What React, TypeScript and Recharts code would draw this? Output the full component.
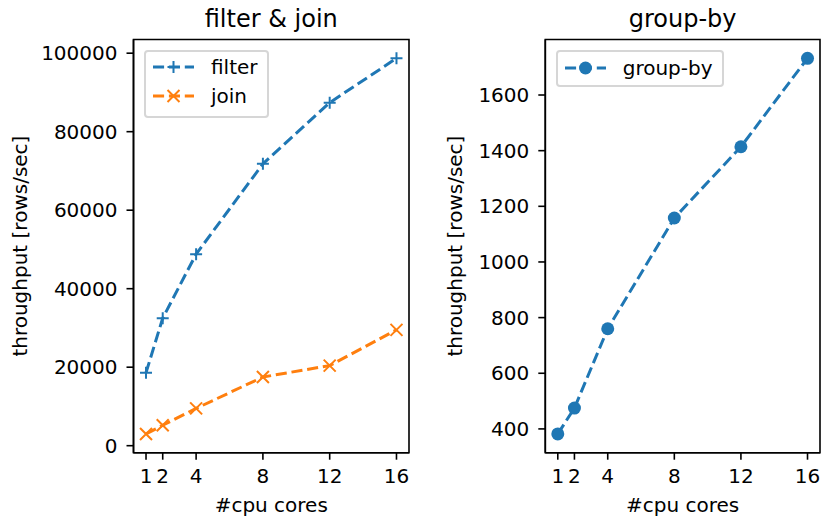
import { LineChart, Line, XAxis, YAxis, Label, Legend, ReferenceArea } from "recharts";

const cores = [1, 2, 4, 8, 12, 16];
const filterRate = [18600, 32500, 48800, 71800, 87400, 98700];
const joinRate = [3000, 5200, 9500, 17500, 20400, 29500];
const groupByRate = [382, 475, 760, 1158, 1414, 1732];

const coreTicks = [1, 2, 4, 8, 12, 16];
const leftTicks = [0, 20000, 40000, 60000, 80000, 100000];
const rightTicks = [400, 600, 800, 1000, 1200, 1400, 1600];

const BLUE = "#1f77b4";
const ORANGE = "#ff7f0e";
const FONT = "'DejaVu Sans', sans-serif";
const DASH = "11.1 4.8";

type MarkerKind = "plus" | "cross" | "circle";
type Series = { key: string; name: string; color: string; marker: MarkerKind };

const leftSeries: Series[] = [
  { key: "filter", name: "filter", color: BLUE, marker: "plus" },
  { key: "join", name: "join", color: ORANGE, marker: "cross" },
];
const rightSeries: Series[] = [{ key: "groupBy", name: "group-by", color: BLUE, marker: "circle" }];

const leftData = cores.map((c, i) => ({ cores: c, filter: filterRate[i], join: joinRate[i] }));
const rightData = cores.map((c, i) => ({ cores: c, groupBy: groupByRate[i] }));

// matplotlib default: 5% margin around the data
function padded(values: number[]): [number, number] {
  const lo = Math.min(...values);
  const hi = Math.max(...values);
  const m = (hi - lo) * 0.05;
  return [lo - m, hi + m];
}

const xDomain = padded(cores);
const leftDomain = padded([...filterRate, ...joinRate]);
const rightDomain = padded(groupByRate);

function Marker({ kind, cx, cy, color }: { kind: MarkerKind; cx: number; cy: number; color: string }) {
  if (kind === "circle") return <circle cx={cx} cy={cy} r={6.5} fill={color} />;
  const d =
    kind === "plus"
      ? `M${cx - 6},${cy}H${cx + 6}M${cx},${cy - 6}V${cy + 6}`
      : `M${cx - 6},${cy - 6}L${cx + 6},${cy + 6}M${cx - 6},${cy + 6}L${cx + 6},${cy - 6}`;
  return <path d={d} stroke={color} strokeWidth={2} fill="none" />;
}

function LegendBox({ items, padTop, padBottom }: { items: Series[]; padTop: number; padBottom: number }) {
  return (
    <div
      style={{
        border: "2px solid #d6d6d6",
        borderRadius: 4,
        background: "rgba(255,255,255,0.8)",
        padding: `${padTop}px 9px ${padBottom}px 7px`,
        fontFamily: FONT,
        fontSize: 20,
        color: "#000",
      }}
    >
      {items.map((it) => (
        <div key={it.key} style={{ display: "flex", alignItems: "center", height: 29 }}>
          <svg width={41} height={20} style={{ display: "block" }}>
            <line x1={0} y1={10} x2={41} y2={10} stroke={it.color} strokeWidth={3} strokeDasharray={DASH} />
            <Marker kind={it.marker} cx={20.5} cy={10} color={it.color} />
          </svg>
          <span style={{ marginLeft: 17, whiteSpace: "nowrap" }}>{it.name}</span>
        </div>
      ))}
    </div>
  );
}

const tickStyle = { fill: "#000", fontSize: 20 };
const lineStyle = { stroke: "#000", strokeWidth: 1.6 };

function Panel({
  data,
  series,
  yDomain,
  yTicks,
  title,
  width,
  yWidth,
  yLabelOffset,
  legendLeft,
  padTop,
  padBottom,
}: {
  data: Record<string, number>[];
  series: Series[];
  yDomain: [number, number];
  yTicks: number[];
  title: string;
  width: number;
  yWidth: number;
  yLabelOffset: number;
  legendLeft: number;
  padTop: number;
  padBottom: number;
}) {
  return (
    <LineChart
      width={width}
      height={521}
      data={data}
      margin={{ top: 39.5, right: 2.5, bottom: 8.3, left: 0 }}
      style={{ fontFamily: FONT }}
    >
      <XAxis
        dataKey="cores"
        type="number"
        domain={xDomain}
        ticks={coreTicks}
        interval={0}
        allowDataOverflow
        height={60}
        tick={tickStyle}
        tickSize={7}
        tickMargin={9}
        tickLine={lineStyle}
        axisLine={lineStyle}
      >
        <Label value="#cpu cores" position="insideBottom" offset={1} style={{ fill: "#000", fontSize: 20 }} />
      </XAxis>
      <YAxis
        type="number"
        domain={yDomain}
        ticks={yTicks}
        interval={0}
        allowDataOverflow
        width={yWidth}
        tick={tickStyle}
        tickSize={7}
        tickMargin={9}
        tickLine={lineStyle}
        axisLine={lineStyle}
      >
        <Label
          value="throughput [rows/sec]"
          angle={-90}
          position="insideLeft"
          offset={yLabelOffset}
          style={{ textAnchor: "middle", fill: "#000", fontSize: 20 }}
        />
      </YAxis>
      {/* axes frame (matplotlib spines) + subplot title */}
      <ReferenceArea
        x1={xDomain[0]}
        x2={xDomain[1]}
        y1={yDomain[0]}
        y2={yDomain[1]}
        fill="none"
        stroke="#000"
        strokeWidth={1.6}
        ifOverflow="visible"
      >
        <Label value={title} position="top" offset={13} style={{ fill: "#000", fontSize: 24 }} />
      </ReferenceArea>
      <Legend
        layout="horizontal"
        verticalAlign="middle"
        align="center"
        wrapperStyle={{ left: legendLeft, top: 50, width: "auto" }}
        content={() => <LegendBox items={series} padTop={padTop} padBottom={padBottom} />}
      />
      {series.map((s) => (
        <Line
          key={s.key}
          dataKey={s.key}
          name={s.name}
          type="linear"
          stroke={s.color}
          strokeWidth={3}
          strokeDasharray={DASH}
          dot={(p: any) => <Marker key={p.index} kind={s.marker} cx={p.cx} cy={p.cy} color={s.color} />}
          activeDot={false}
          isAnimationActive={false}
        />
      ))}
    </LineChart>
  );
}

export default function App() {
  return (
    <div style={{ position: "absolute", left: 0, top: 0, width: 823, height: 521, background: "#fff" }}>
      <div style={{ position: "absolute", left: 0, top: 0 }}>
        <Panel
          data={leftData}
          series={leftSeries}
          yDomain={leftDomain}
          yTicks={leftTicks}
          title="filter & join"
          width={411.5}
          yWidth={133.5}
          yLabelOffset={20}
          legendLeft={144}
          padTop={0}
          padBottom={5.5}
        />
      </div>
      <div style={{ position: "absolute", left: 411, top: 0 }}>
        <Panel
          data={rightData}
          series={rightSeries}
          yDomain={rightDomain}
          yTicks={rightTicks}
          title="group-by"
          width={411.5}
          yWidth={134.3}
          yLabelOffset={44}
          legendLeft={144.7}
          padTop={1.6}
          padBottom={2.2}
        />
      </div>
    </div>
  );
}
